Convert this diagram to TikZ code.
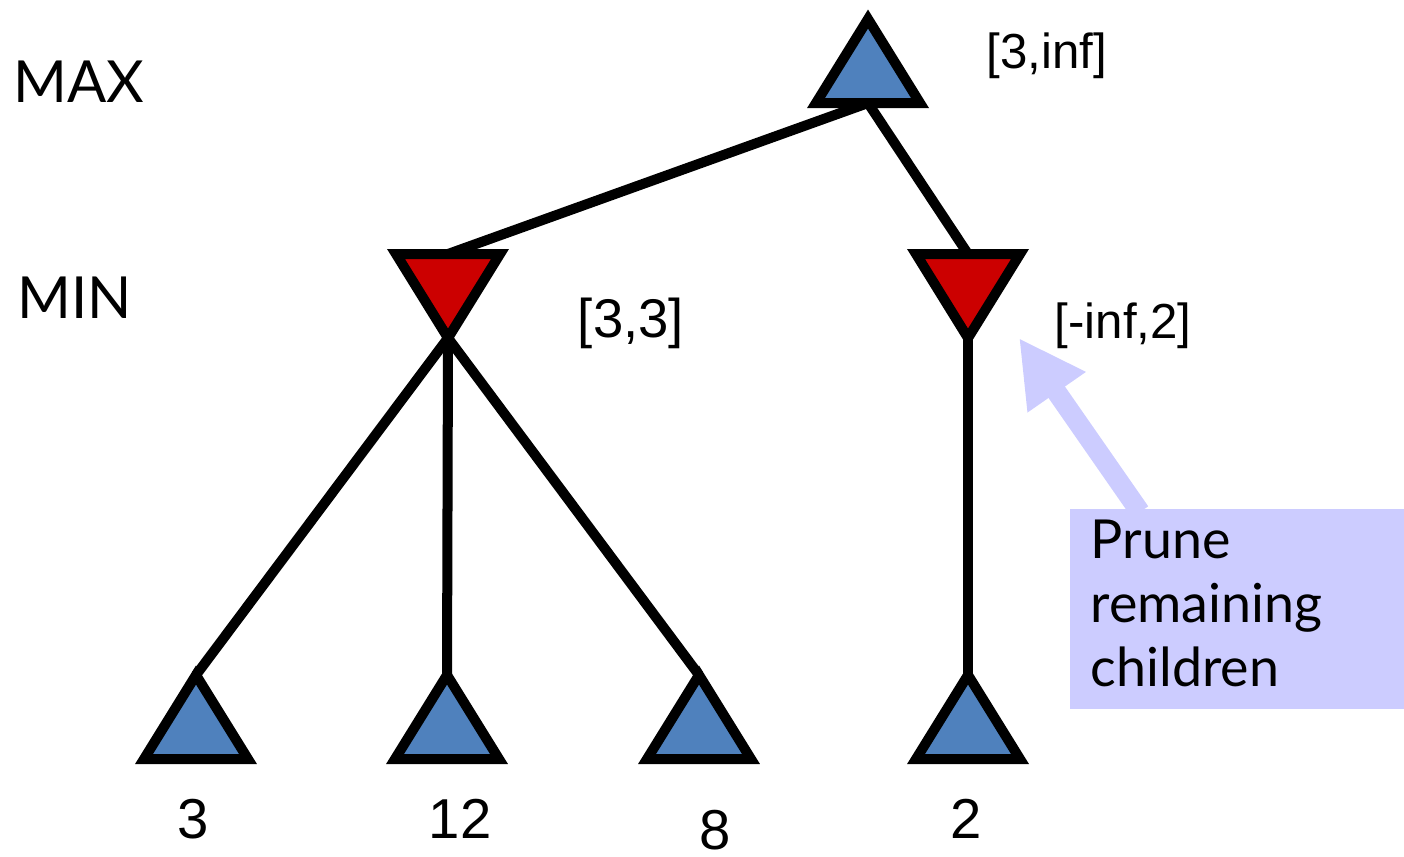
\documentclass[tikz,border=0pt]{standalone}
\usepackage{fontspec}
\setmainfont{Liberation Sans}
\newfontfamily\handfont{Lato}
\usetikzlibrary{arrows.meta}
\definecolor{maxblue}{HTML}{4F81BD}
\definecolor{minred}{HTML}{CC0000}
\definecolor{notebg}{HTML}{CCCCFF}
\tikzset{
  maxtri/.style={draw=black, fill=maxblue, line width=0.1cm, line join=miter},
  mintri/.style={draw=black, fill=minred, line width=0.1cm, line join=miter},
  edge/.style={draw=black, line width=0.1cm},
  lvl/.style={font=\handfont\fontsize{16.5}{18}\selectfont, inner sep=0pt, anchor=base},
  bound/.style={font=\fontsize{14}{16}\selectfont, inner sep=0pt, anchor=base},
  val/.style={font=\fontsize{16}{18}\selectfont, inner sep=0pt, anchor=base},
  notebox/.style={fill=notebg, draw=none, inner sep=0pt, anchor=north west,
    minimum width=3.35cm, minimum height=2.0cm},
  notetext/.style={font=\handfont\fontsize{15.3}{18.2}\selectfont, inner sep=0pt,
    anchor=north west, align=left},
  notearrow/.style={draw=notebg, line width=0.2cm,
    -{Triangle[length=0.66cm, width=0.66cm]}}
}
\newcommand\maxtriangle[3]{% name, centre x, apex y
  \draw[maxtri] (#2,#3) -- (#2+52,#3+84) -- (#2-52,#3+84) -- cycle;
  \coordinate (#1-top) at (#2,#3);
  \coordinate (#1-bot) at (#2,#3+84);}
\newcommand\mintriangle[3]{% name, centre x, top y
  \draw[mintri] (#2-52,#3) -- (#2+52,#3) -- (#2,#3+84) -- cycle;
  \coordinate (#1-top) at (#2,#3);
  \coordinate (#1-bot) at (#2,#3+84);}
\begin{document}
\begin{tikzpicture}[x=0.01cm, y=-0.01cm]
\useasboundingbox (0,0) rectangle (1404,856);
% connection points
\coordinate (root-bot) at (868,103);
\coordinate (a-top) at (448,254);
\coordinate (a-bot) at (448,338);
\coordinate (b-top) at (968,254);
\coordinate (b-bot) at (968,338);
\coordinate (l1-top) at (196,675);
\coordinate (l2-top) at (447,675);
\coordinate (l3-top) at (699,675);
\coordinate (l4-top) at (968,675);
% edges
\draw[edge] (root-bot) -- (a-top);
\draw[edge] (root-bot) -- (b-top);
\draw[edge] (a-bot) -- (l1-top);
\draw[edge] (a-bot) -- (l2-top);
\draw[edge] (a-bot) -- (l3-top);
\draw[edge] (b-bot) -- (l4-top);
% triangles
\maxtriangle{root}{868}{19}
\mintriangle{a}{448}{254}
\mintriangle{b}{968}{254}
\maxtriangle{l1}{196}{675}
\maxtriangle{l2}{447}{675}
\maxtriangle{l3}{699}{675}
\maxtriangle{l4}{968}{675}
% level labels
\node[lvl] (maxlbl) at (79,102) {MAX};
\node[lvl] (minlbl) at (75,318) {MIN};
% bounds
\node[bound] (rootb) at (1047,68) {[3,inf]};
\node[bound, font=\fontsize{15.5}{18}\selectfont] (ab) at (631,337) {[3,3]};
\node[bound] (bb) at (1123,338) {[-inf,2]};
% leaf values
\node[val] (v1) at (193,838) {3};
\node[val] (v2) at (460,838) {12};
\node[val] (v3) at (715,849) {8};
\node[val] (v4) at (966,838) {2};
% note
\coordinate (arrowstart) at (1140,512);
\coordinate (arrowtip) at (1019,338);
\draw[notearrow] (arrowstart) -- (arrowtip);
\node[notebox] (note) at (1069,508) {};
\node[notetext] (notet) at (1090,519) {Prune\\remaining\\children};
\end{tikzpicture}
\end{document}
